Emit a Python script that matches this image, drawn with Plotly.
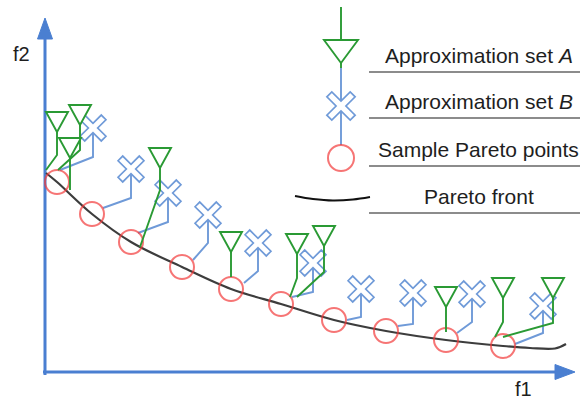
import math
import plotly.graph_objects as go

# ---- data (f1, f2 units; origin at axes crossing) ----
pareto_f1 = [12, 47, 86, 137, 186, 236, 289, 341, 401, 458]
pareto_f2 = [190, 158, 130, 105, 83, 68, 52, 41, 32, 26]

front_f1 = [1, 12, 47, 86, 137, 186, 236, 289, 341, 401, 458, 485, 510, 521]
front_f2 = [199, 190, 158, 130, 105, 83, 68, 52, 41, 32, 26, 24, 23.5, 28]

setB_f1 = [48, 86, 123, 163, 213, 268, 316, 368, 427, 498]
setB_f2 = [244, 203, 179, 157, 129, 109, 83, 79, 78, 66]
setB_elbow_f1 = [48, 86, 123, 163, 213, 268, 316, 368, 427, 498]
setB_elbow_f2 = [215, 174, 150, 129, 101, 80, 55, 48, 50, 39]
setB_end_f1 = [15, 58, 93, 148, 199, 247, 302, 353, 412, 470]
setB_end_f2 = [202, 164, 139, 112, 89, 75, 52, 46, 39, 28]

setA_f1 = [12, 35, 25, 115, 186, 252, 279, 401, 458, 508]
setA_f2 = [250, 257, 224, 214, 130, 128, 136, 75, 84, 84]
setA_elbow_f1 = [12, 35, 25, 115, 186, 252, 279, 401, 458, 508]
setA_elbow_f2 = [217, 222, 182, 182, 95, 94, 100, 40, 50, 49]
setA_end_f1 = [1, 13, 25, 95, 186, 245, 252, 401, 450, 458]
setA_end_f2 = [202, 202, 182, 125, 95, 75, 75, 40, 35, 35]

legend_labels = ["Approximation set <i>A</i>", "Approximation set <i>B</i>",
                 "Sample Pareto points", "Pareto front"]
legend_text_f2 = [317, 271, 223, 176]
legend_rule_f2 = [300, 254, 206, 159]
legend_sym_f1 = 296
legend_tri_f2 = 320.5
legend_cross_f2 = 266
legend_circle_f2 = 214
legend_arc_f1 = [250, 268, 288, 308, 325]
legend_arc_f2 = [176, 173, 171.5, 172.5, 175]

GREEN = "#2a9a34"
BLUE = "#6f9ad8"
RED = "#f23b3b"
AXIS = "#4a7fd1"
CURVE = "#3d3d3d"
LW = 1.9


def poly(xs0, ys0, xs1, ys1, xs2, ys2):
    X, Y = [], []
    for a, b, c, d, e, f in zip(xs0, ys0, xs1, ys1, xs2, ys2):
        X += [a, c, e, None]
        Y += [b, d, f, None]
    return X, Y


def cross_path(a, b):
    """Outline of a slender X (a plus sign rotated 45 deg), in pixels."""
    pts = [(-a, b), (a, b), (a, a), (b, a), (b, -a), (a, -a), (a, -b), (-a, -b),
           (-a, -a), (-b, -a), (-b, a), (-a, a)]
    s = 1 / math.sqrt(2)
    rot = [((x - y) * s, (x + y) * s) for x, y in pts]
    return "M " + " L ".join(f"{x:.2f} {y:.2f}" for x, y in rot) + " Z"


fig = go.Figure()

# axes lines
fig.add_trace(go.Scatter(x=[0, 0], y=[-3, 340], mode="lines",
                         line=dict(color=AXIS, width=3), hoverinfo="skip"))
fig.add_trace(go.Scatter(x=[-2, 514], y=[0, 0], mode="lines",
                         line=dict(color=AXIS, width=3), hoverinfo="skip"))

# Pareto front
fig.add_trace(go.Scatter(x=front_f1, y=front_f2, mode="lines",
                         line=dict(color=CURVE, width=2.2, shape="spline", smoothing=1),
                         hoverinfo="skip"))

# B connectors (below crosses)
bx, by = poly(setB_f1, setB_f2, setB_elbow_f1, setB_elbow_f2, setB_end_f1, setB_end_f2)
fig.add_trace(go.Scatter(x=bx, y=by, mode="lines", line=dict(color=BLUE, width=LW),
                         hoverinfo="skip"))
# legend blue line
fig.add_trace(go.Scatter(x=[legend_sym_f1, legend_sym_f1], y=[304, 227], mode="lines",
                         line=dict(color=BLUE, width=LW), hoverinfo="skip"))

# Pareto sample points
fig.add_trace(go.Scatter(x=pareto_f1 + [legend_sym_f1], y=pareto_f2 + [legend_circle_f2],
                         mode="markers",
                         marker=dict(symbol="circle-open", size=[24] * 10 + [26],
                                     color=RED, line=dict(color=RED, width=2)),
                         hoverinfo="skip"))

# legend arc
fig.add_trace(go.Scatter(x=legend_arc_f1, y=legend_arc_f2, mode="lines",
                         line=dict(color="#111111", width=1.8, shape="spline"),
                         hoverinfo="skip"))

shapes = []
# crosses (set B), white-filled so the connector start is hidden
for x, y in zip(setB_f1, setB_f2):
    shapes.append(dict(type="path", xref="x", yref="y", xsizemode="pixel",
                       ysizemode="pixel", xanchor=x, yanchor=y,
                       path=cross_path(3.3, 15.0),
                       fillcolor="white", line=dict(color=BLUE, width=1.7)))
shapes.append(dict(type="path", xref="x", yref="y", xsizemode="pixel",
                   ysizemode="pixel", xanchor=legend_sym_f1, yanchor=legend_cross_f2,
                   path=cross_path(3.5, 16.5),
                   fillcolor="white", line=dict(color=BLUE, width=1.7)))
# A connectors (drawn over the crosses)
for i in range(len(setA_f1)):
    shapes.append(dict(type="path", xref="x", yref="y",
                       path=f"M {setA_f1[i]} {setA_f2[i]} L {setA_elbow_f1[i]} {setA_elbow_f2[i]}"
                            f" L {setA_end_f1[i]} {setA_end_f2[i]}",
                       line=dict(color=GREEN, width=LW)))
shapes.append(dict(type="line", xref="x", yref="y", x0=legend_sym_f1, x1=legend_sym_f1,
                   y0=365, y1=304, line=dict(color=GREEN, width=LW)))
# triangles (inverted), anchored at data points, drawn in pixels
for x, y in zip(setA_f1, setA_f2):
    shapes.append(dict(type="path", xref="x", yref="y", xsizemode="pixel",
                       ysizemode="pixel", xanchor=x, yanchor=y,
                       path="M -11 10 L 11 10 L 0 -10 Z",
                       fillcolor="white", line=dict(color=GREEN, width=LW)))
shapes.append(dict(type="path", xref="x", yref="y", xsizemode="pixel",
                   ysizemode="pixel", xanchor=legend_sym_f1, yanchor=legend_tri_f2,
                   path="M -17 11.5 L 17 11.5 L 0 -11.5 Z",
                   fillcolor="white", line=dict(color=GREEN, width=LW)))
# arrowheads
shapes.append(dict(type="path", xref="x", yref="y", xsizemode="pixel",
                   ysizemode="pixel", xanchor=0, yanchor=354,
                   path="M 0 0 L 7.5 -21 L -7.5 -21 Z",
                   fillcolor=AXIS, line=dict(color=AXIS, width=1)))
shapes.append(dict(type="path", xref="x", yref="y", xsizemode="pixel",
                   ysizemode="pixel", xanchor=530, yanchor=0,
                   path="M 0 0 L -20 7.5 L -20 -7.5 Z",
                   fillcolor=AXIS, line=dict(color=AXIS, width=1)))
# legend rules
for y in legend_rule_f2:
    shapes.append(dict(type="line", xref="x", yref="y", x0=324, x1=540, y0=y, y1=y,
                       line=dict(color="#8c8c8c", width=2)))

annotations = []
for t, y in zip(legend_labels, legend_text_f2):
    annotations.append(dict(x=433.5, y=y, xref="x", yref="y", text=t, showarrow=False,
                            xanchor="center", yanchor="middle",
                            font=dict(family="Liberation Sans, Arial", size=21,
                                      color="#1e1e1e")))
annotations.append(dict(x=-23.5, y=318.5, xref="x", yref="y", text="f2", showarrow=False,
                        xanchor="center", yanchor="middle",
                        font=dict(family="Liberation Sans, Arial", size=20, color="#1e1e1e")))
annotations.append(dict(x=478, y=-17, xref="x", yref="y", text="f1", showarrow=False,
                        xanchor="center", yanchor="middle",
                        font=dict(family="Liberation Sans, Arial", size=20, color="#1e1e1e")))

fig.update_layout(
    width=580, height=400, margin=dict(l=0, r=0, t=0, b=0),
    paper_bgcolor="white", plot_bgcolor="white", showlegend=False,
    xaxis=dict(range=[-45, 535], visible=False, fixedrange=True),
    yaxis=dict(range=[-28, 372], visible=False, fixedrange=True),
    shapes=shapes, annotations=annotations,
)

fig.write_html("out.html", config={"displayModeBar": False})
